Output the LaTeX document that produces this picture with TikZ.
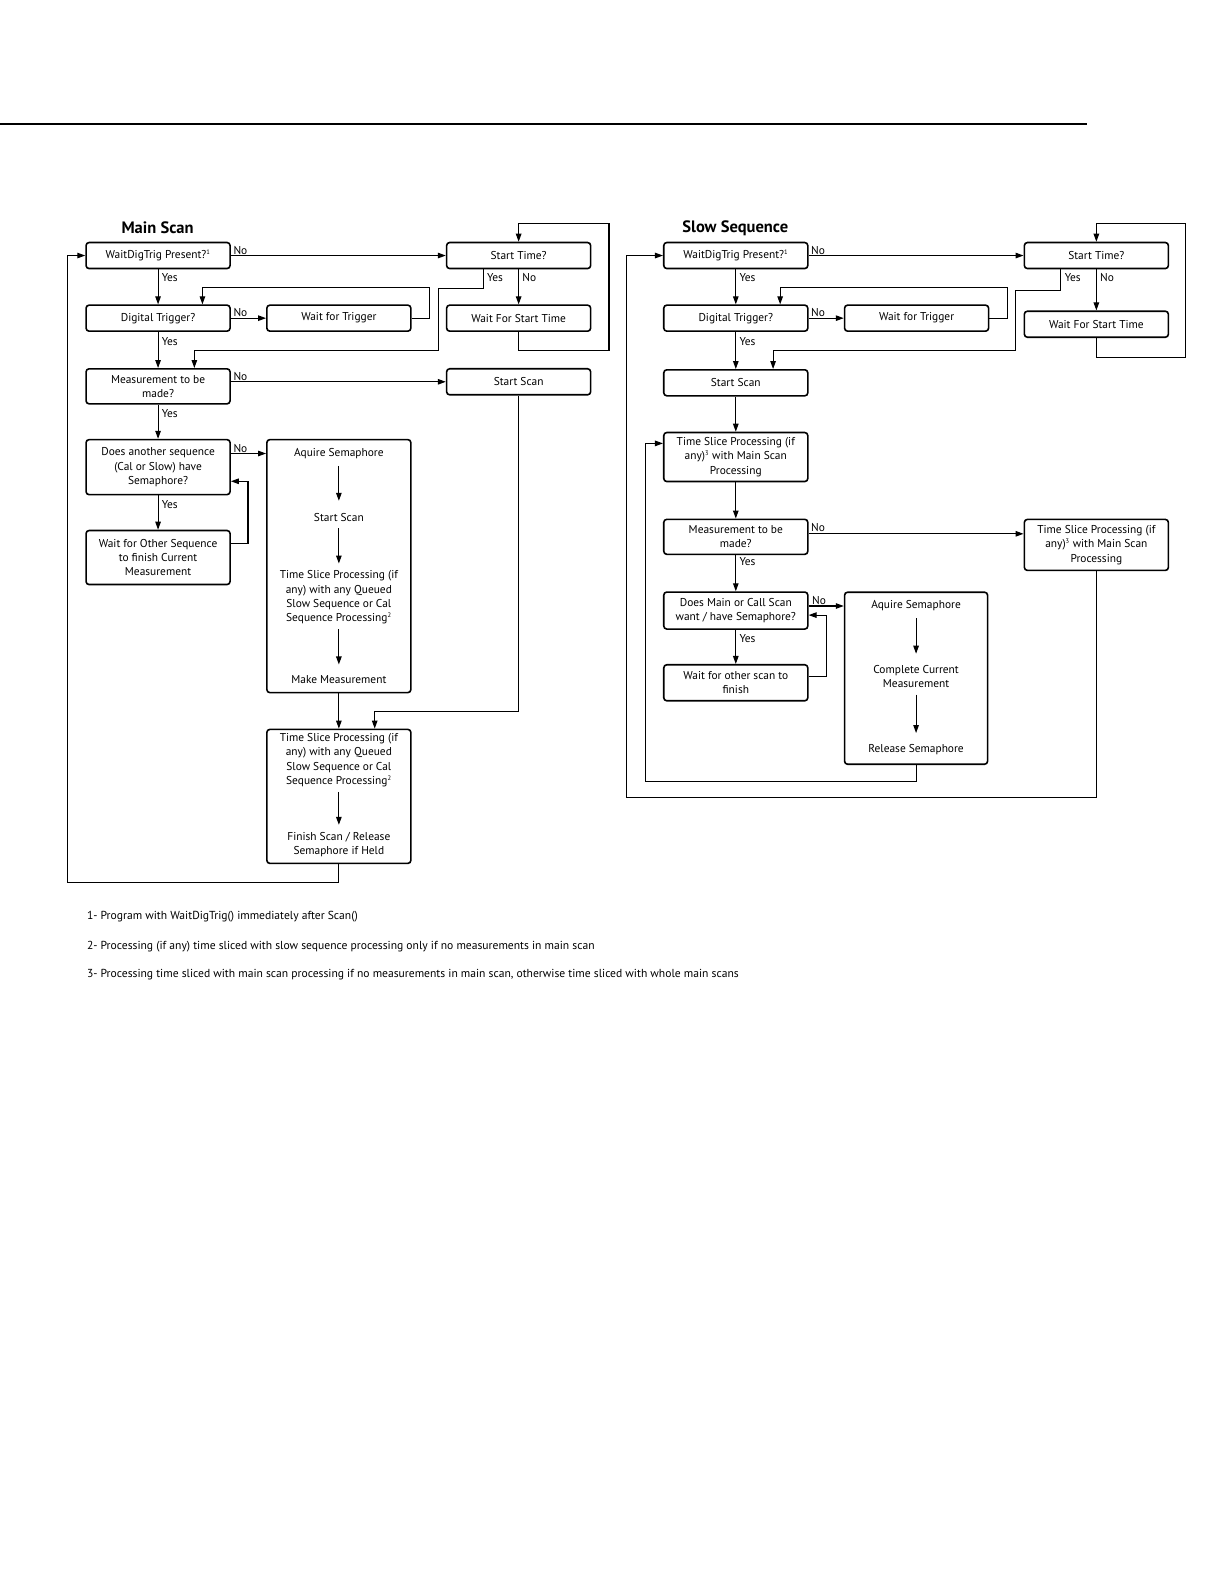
\documentclass[tikz,border=0pt]{standalone}
\usepackage{fontspec}
\setmainfont{PT Sans}
\usetikzlibrary{arrows.meta,calc}
\newcommand{\fs}{\fontsize{11.4}{14.3}\selectfont}
\newcommand{\ft}{\fontsize{16.5}{18}\selectfont\bfseries}
\newcommand{\sps}[1]{\textsuperscript{\fontsize{6.5}{6.5}\selectfont #1}}
\begin{document}
\begin{tikzpicture}[x=1.01pt,y=-1.01pt,
  box/.style={draw, line width=1.6pt, rounded corners=3pt, align=center, font=\fs, inner sep=2pt, minimum width=144pt},
  bigbox/.style={draw, line width=1.6pt, rounded corners=3pt, minimum width=144pt},
  txt/.style={align=center, font=\fs, inner sep=2pt},
  lbl/.style={font=\fs, inner sep=1pt},
  ttl/.style={font=\ft, inner sep=1pt},
  arr/.style={line width=1.1pt, -{Triangle[length=8pt,width=5.5pt]}},
  ln/.style={line width=1.1pt},
  note/.style={font=\fontsize{11.6}{13}\selectfont, inner sep=0pt, anchor=west}]
\useasboundingbox (0,0) rectangle (1211.9,1568.3);
\fill[white] (0,0) rectangle (1211.9,1568.3);
\draw[line width=2pt] (0,123) -- (1076,123);

% ================= Main Scan =================
\node[ttl] (tmain) at (156,225) {Main Scan};
\node[box, minimum height=26pt] (b1) at (156.5,253) {WaitDigTrig Present?\sps{1}};
\node[box, minimum height=26pt] (st1) at (513.5,253) {Start Time?};
\node[box, minimum height=26pt] (dt1) at (156.5,315) {Digital Trigger?};
\node[box, minimum height=26pt] (wt1) at (335.5,315) {Wait for Trigger};
\node[box, minimum height=26pt] (ws1) at (513.5,315) {Wait For Start Time};
\node[box, minimum height=35pt] (m1) at (156.5,382.5) {Measurement to be\\made?};
\node[box, minimum height=26pt] (ss1) at (513.5,378) {Start Scan};
\node[box, minimum height=55pt] (sem1) at (156.5,462.5) {Does another sequence\\(Cal or Slow) have\\Semaphore?};
\node[box, minimum height=54pt] (wo1) at (156.5,552) {Wait for Other Sequence\\to finish Current\\Measurement};

\node[bigbox, minimum height=253pt] (bb1) at (335.5,560.5) {};
\node[txt] (t11) at (335.5,449) {Aquire Semaphore};
\node[txt] (t12) at (335.5,512) {Start Scan};
\node[txt] (t13) at (335.5,591.5) {Time Slice Processing (if\\any) with any Queued\\Slow Sequence or Cal\\Sequence Processing\sps{2}};
\node[txt] (t14) at (335.5,673) {Make Measurement};
\draw[arr, shorten <=5pt, shorten >=10pt] (t11.south) -- (t12.north);
\draw[arr, shorten <=5pt, shorten >=5pt] (t12.south) -- (t13.north);
\draw[arr, shorten <=3pt, shorten >=9pt] (t13.south) -- (t14.north);

\node[bigbox, minimum height=134pt] (bb2) at (335.5,788.5) {};
\node[txt] (t21) at (335.5,752.5) {Time Slice Processing (if\\any) with any Queued\\Slow Sequence or Cal\\Sequence Processing\sps{2}};
\node[txt] (t22) at (335.5,836) {Finish Scan / Release\\Semaphore if Held};
\draw[arr, shorten <=3pt, shorten >=5pt] (t21.south) -- (t22.north);

% connectors main
\draw[arr] (b1) -- (st1);
\node[lbl, anchor=south west] (lno1) at (230,253) {No};
\draw[arr] (b1) -- (dt1);
\node[lbl, anchor=west] (lyes1) at (159,275) {Yes};
\draw[arr] (st1) -- (ws1);
\node[lbl, anchor=west] (lno2) at (516,275) {No};
\draw[arr] ($(st1.south west)+(37,0)$) -- ++(0,19) -| (434,347) -| ($(m1.north west)+(108,0)$);
\node[lbl, anchor=west] (lyes2) at (481,275) {Yes};
\draw[arr] (ws1.south) -- ++(0,18) -| (603,221) -| (st1.north);
\draw[arr] (dt1) -- (wt1);
\node[lbl, anchor=south west] (lno3) at (230,315) {No};
\draw[arr] (wt1.east) -- ++(18,0) -- ++(0,-30) -| ($(dt1.north west)+(116,0)$);
\draw[arr] (dt1) -- (m1);
\node[lbl, anchor=west] (lyes3) at (159,338) {Yes};
\draw[arr] (m1.east |- ss1.west) -- (ss1.west);
\node[lbl, anchor=south west] (lno4) at (230,378) {No};
\draw[arr] (m1) -- (sem1);
\node[lbl, anchor=west] (lyes4) at (159,409) {Yes};
\draw[arr] (sem1.east |- t11) -- (bb1.west |- t11);
\node[lbl, anchor=south west] (lno5) at (230,449) {No};
\draw[arr] (sem1) -- (wo1);
\node[lbl, anchor=west] (lyes5) at (159,500) {Yes};
\draw[arr] ($(wo1.east)+(0,-14)$) -- ++(17,0) |- ($(sem1.east)+(0,14)$);
\draw[arr] (ss1.south) -- (513.5,704) -| ($(bb2.north)+(35.5,0)$);
\draw[arr] (bb1.south) -- (bb2.north);
\draw[arr] (bb2.south) -- ++(0,18) -| ($(b1.west)+(-18,0)$) -- (b1.west);

% ================= Slow Sequence =================
\node[ttl] (tslow) at (728,226) {Slow Sequence};
\node[box, minimum height=26pt] (br1) at (728.5,253) {WaitDigTrig Present?\sps{1}};
\node[box, minimum height=26pt] (st2) at (1085.5,253) {Start Time?};
\node[box, minimum height=26pt] (dt2) at (728.5,315) {Digital Trigger?};
\node[box, minimum height=26pt] (wt2) at (907.5,315) {Wait for Trigger};
\node[box, minimum height=26pt] (ws2) at (1085.5,321) {Wait For Start Time};
\node[box, minimum height=26pt] (ss2) at (728.5,379) {Start Scan};
\node[box, minimum height=49pt] (ts2) at (728.5,452.5) {Time Slice Processing (if\\any)\sps{3} with Main Scan\\Processing};
\node[box, minimum height=35pt] (m2) at (728.5,531.5) {Measurement to be\\made?};
\node[box, minimum height=51pt] (ts3) at (1085.5,539.5) {Time Slice Processing (if\\any)\sps{3} with Main Scan\\Processing};
\node[box, minimum height=37pt] (sem2) at (728.5,604.5) {Does Main or Call Scan\\want / have Semaphore?};
\node[box, minimum height=36pt] (wo2) at (728.5,676) {Wait for other scan to\\finish};

\node[bigbox, minimum width=143pt, minimum height=172pt] (bb3) at (907,671.5) {};
\node[txt] (t31) at (907,600) {Aquire Semaphore};
\node[txt] (t32) at (907,669.5) {Complete Current\\Measurement};
\node[txt] (t33) at (907,742) {Release Semaphore};
\draw[arr, shorten <=5pt, shorten >=9pt] (t31.south) -- (t32.north);
\draw[arr, shorten <=5pt, shorten >=9pt] (t32.south) -- (t33.north);

% connectors slow
\draw[arr] (br1) -- (st2);
\node[lbl, anchor=south west] (rno1) at (802,253) {No};
\draw[arr] (br1) -- (dt2);
\node[lbl, anchor=west] (ryes1) at (731,275) {Yes};
\draw[arr] (st2.south) -- (ws2.north);
\node[lbl, anchor=west] (rno2) at (1088,275) {No};
\draw[arr] ($(st2.south west)+(37,0)$) -- ++(0,21) -| (1005,347) -| ($(ss2.north west)+(109,0)$);
\node[lbl, anchor=west] (ryes2) at (1053,275) {Yes};
\draw[arr] (ws2.south) -- ++(0,19) -| (1174,221) -| (st2.north);
\draw[arr] (dt2) -- (wt2);
\node[lbl, anchor=south west] (rno3) at (802,315) {No};
\draw[arr] (wt2.east) -- ++(18,0) -- ++(0,-30) -| ($(dt2.north west)+(116,0)$);
\draw[arr] (dt2) -- (ss2);
\node[lbl, anchor=west] (ryes3) at (731,338) {Yes};
\draw[arr] (ss2) -- (ts2);
\draw[arr] (ts2) -- (m2);
\draw[arr] ($(m2.east)+(0,-3)$) -- ($(m2.east -| ts3.west)+(0,-3)$);
\node[lbl, anchor=south west] (rno4) at (802,528) {No};
\draw[arr] (m2) -- (sem2);
\node[lbl, anchor=west] (ryes4) at (731,556) {Yes};
\draw[arr] (sem2.east |- t31) -- (bb3.west |- t31);
\node[lbl, anchor=south west] (rno5) at (803,600) {No};
\draw[arr] (sem2) -- (wo2);
\node[lbl, anchor=west] (ryes5) at (731,632) {Yes};
\draw[arr] ($(wo2.east)+(0,-6)$) -- ++(18,0) |- ($(sem2.east)+(0,4.5)$);
\draw[arr] (bb3.south) -- ++(0,16) -| ($(ts2.west)+(-17,0)$) |- ($(ts2.west)+(0,-13.5)$);
\draw[arr] (ts3.south) -- (1085.5,790) -| ($(br1.west)+(-36,0)$) -- (br1.west);

% ================= Notes =================
\node[note] (n1) at (86,908) {1- Program with WaitDigTrig() immediately after Scan()};
\node[note] (n2) at (86,937) {2- Processing (if any) time sliced with slow sequence processing only if no measurements in main scan};
\node[note] (n3) at (86,965) {3- Processing time sliced with main scan processing if no measurements in main scan, otherwise time sliced with whole main scans};
\end{tikzpicture}
\end{document}
